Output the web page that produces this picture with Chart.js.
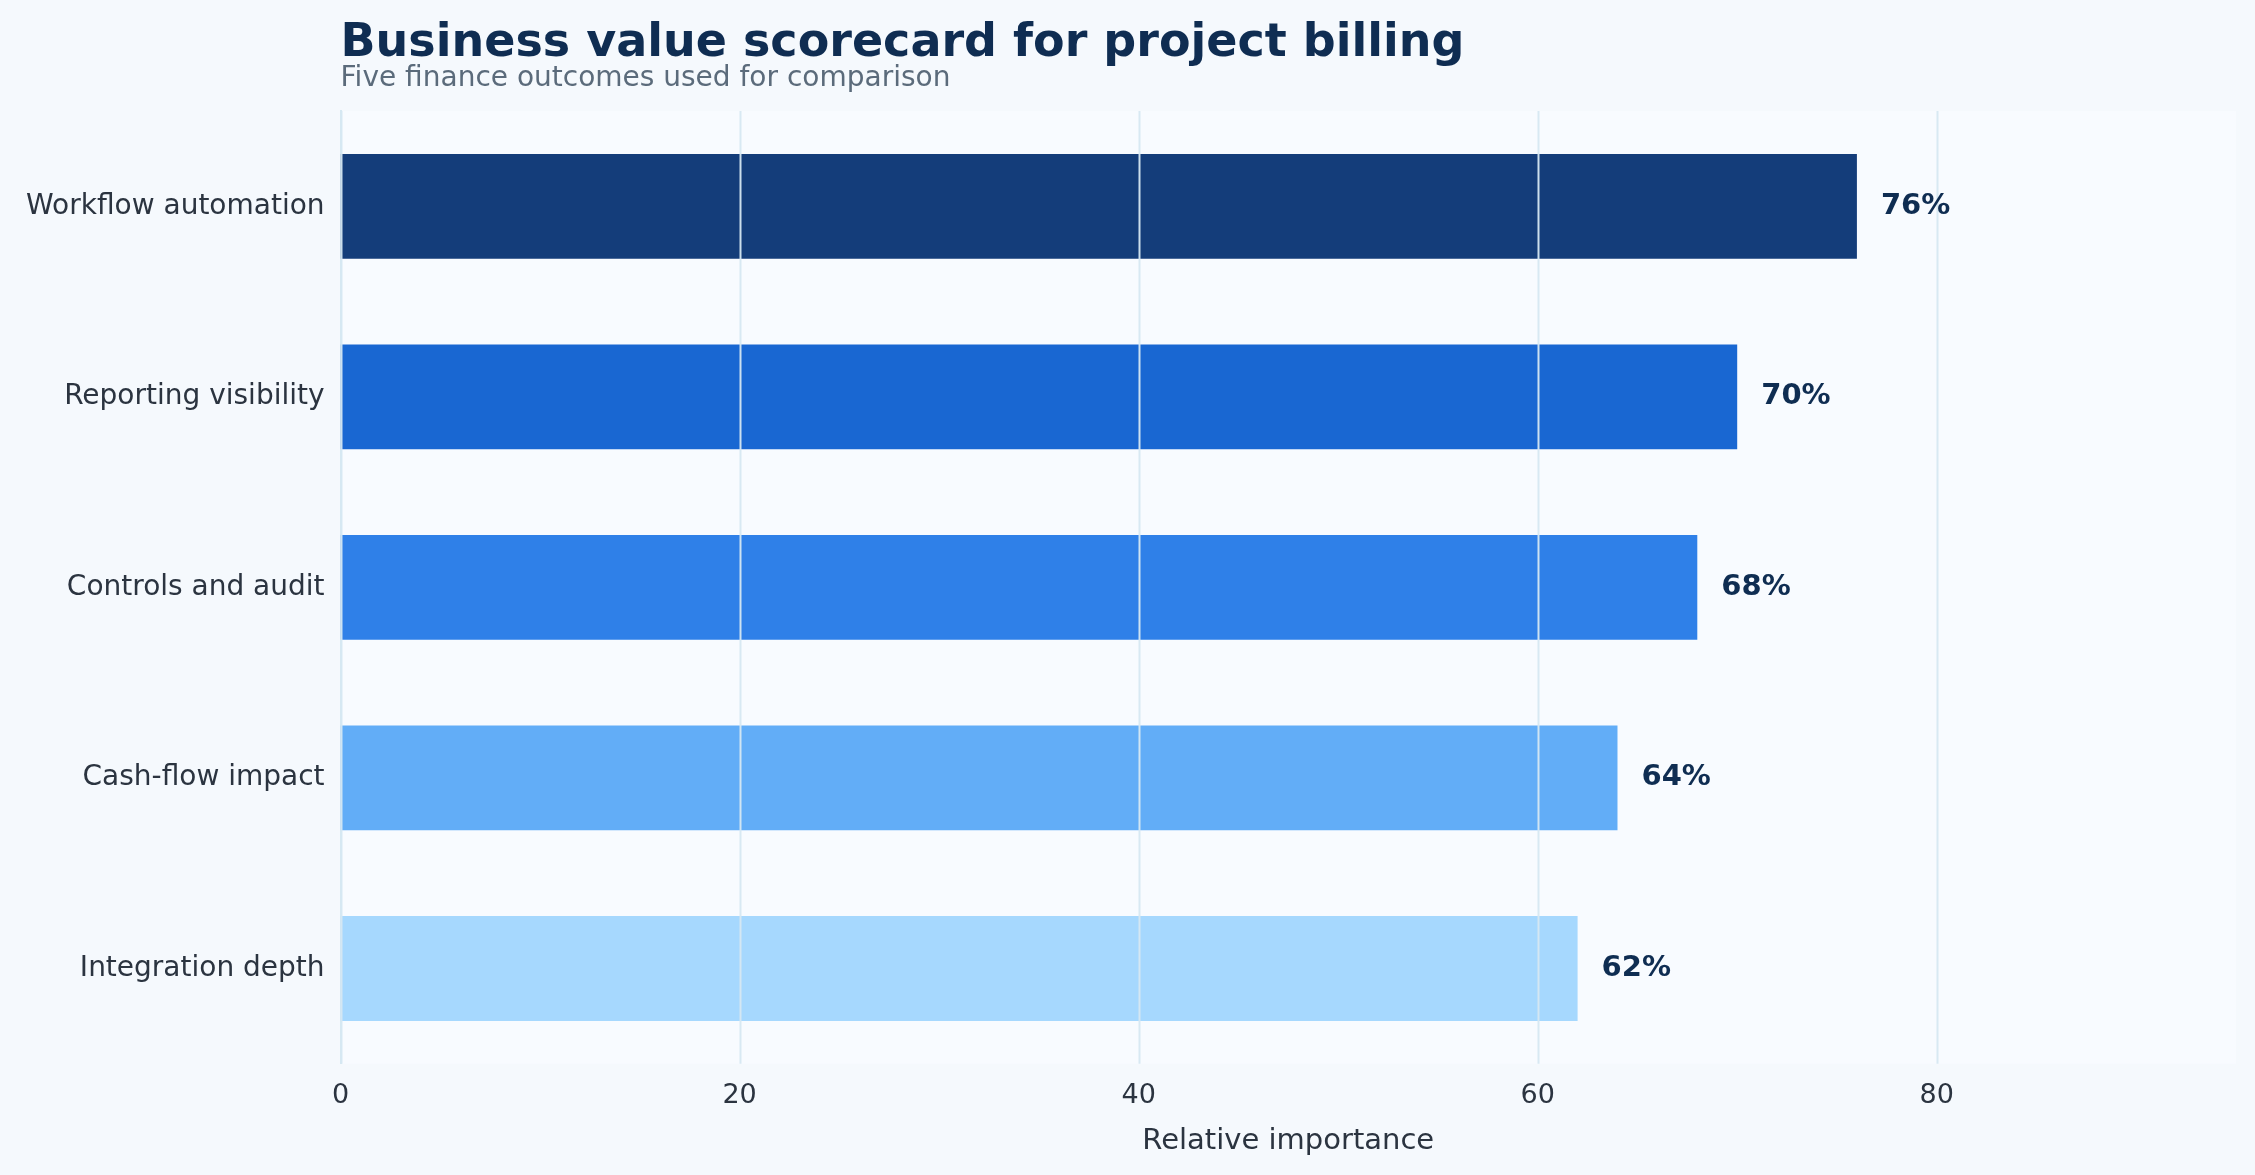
<!DOCTYPE html>
<html><head><meta charset="utf-8">
<script src="https://cdn.jsdelivr.net/npm/chart.js@4/dist/chart.umd.min.js"></script>
<style>html,body{margin:0;padding:0;background:#f5f9fd;}#wrap{width:2255px;height:1175px;}</style>
</head><body><div id="wrap"><canvas id="c"></canvas></div>
<script>
const categories = ["Workflow automation","Reporting visibility","Controls and audit","Cash-flow impact","Integration depth"];
const values = [76,70,68,64,62];
const barColors = ["#143d7a","#1967d2","#2f80e8","#62adf7","#a6d8fe"];
const xTicks = [0,20,40,60,80];
const titleText = "Business value scorecard for project billing";
const subtitleText = "Five finance outcomes used for comparison";
const FONT = "'DejaVu Sans', sans-serif";

const deco = {
  id:'deco',
  beforeDraw(chart){
    const {ctx, chartArea:a} = chart;
    ctx.save();
    ctx.fillStyle = '#f8fbff';
    ctx.fillRect(a.left, a.top, a.right-a.left, a.bottom-a.top);
    ctx.restore();
  },
  afterDatasetsDraw(chart){
    const {ctx, chartArea:a, scales} = chart;
    ctx.save();
    ctx.strokeStyle = 'rgba(214,232,242,0.95)';
    ctx.lineWidth = 2;
    xTicks.forEach(t=>{
      const x = Math.round(scales.x.getPixelForValue(t))+0.5;
      ctx.beginPath(); ctx.moveTo(x,a.top); ctx.lineTo(x,a.bottom); ctx.stroke();
    });
    const meta = chart.getDatasetMeta(0);
    ctx.fillStyle = '#0f2d52';
    ctx.font = 'bold 29px ' + FONT;
    ctx.textBaseline = 'middle';
    meta.data.forEach((b,i)=>{ ctx.fillText(values[i]+'%', b.x+24, b.y); });
    ctx.fillStyle = '#0f2d52';
    ctx.font = 'bold 46px ' + FONT;
    ctx.textBaseline = 'alphabetic';
    ctx.fillText(titleText, a.left, 56);
    ctx.fillStyle = '#5b6b7b';
    ctx.font = '28px ' + FONT;
    ctx.fillText(subtitleText, a.left, 86);
    ctx.restore();
  }
};

new Chart(document.getElementById('c'), {
  type:'bar',
  data:{labels:categories, datasets:[{data:values, backgroundColor:barColors, barPercentage:0.55, categoryPercentage:1.0}]},
  options:{
    indexAxis:'y', responsive:true, maintainAspectRatio:false, animation:false,
    layout:{padding:{top:111, right:19, left:20, bottom:12}},
    plugins:{legend:{display:false}, tooltip:{enabled:false}},
    scales:{
      x:{min:0,max:95, afterBuildTicks(s){ s.ticks = xTicks.map(v=>({value:v})); },
        grid:{display:false, drawTicks:true},
        border:{display:false},
        ticks:{color:'#2b3440', font:{family:FONT,size:27}, padding:8},
        title:{display:true,text:'Relative importance',color:'#2b3440',font:{family:FONT,size:29},padding:{top:4}}},
      y:{grid:{display:false, drawTicks:true, tickLength:10, color:'#2b3440'},
        border:{display:true,color:'#d6e8f2',width:2},
        ticks:{color:'#2b3440', font:{family:FONT,size:28}, padding:6}}
    }
  },
  plugins:[deco]
});
</script></body></html>
